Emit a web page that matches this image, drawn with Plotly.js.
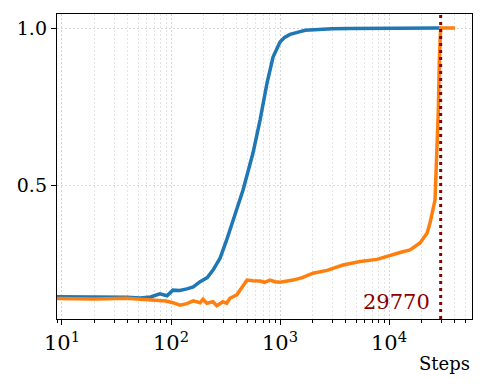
<!DOCTYPE html>
<html>
<head>
<meta charset="utf-8">
<script src="https://cdn.plot.ly/plotly-3.0.1.min.js"></script>
<style>html,body{margin:0;padding:0;background:#fff;}#chart{width:487px;height:390px;}</style>
</head>
<body>
<div id="chart"></div>
<script>
const blueSteps = [9, 20, 40, 52, 65, 79, 92, 104, 120, 140, 160, 185, 215, 243, 282, 324, 370, 458, 565, 656, 760, 863, 1000, 1100, 1236, 1350, 1500, 1700, 1884, 2300, 3000, 4385, 10000, 29770];
const blueVals  = [0.144, 0.144, 0.142, 0.140, 0.143, 0.153, 0.147, 0.165, 0.164, 0.169, 0.175, 0.192, 0.205, 0.229, 0.267, 0.325, 0.389, 0.484, 0.602, 0.707, 0.825, 0.908, 0.956, 0.970, 0.980, 0.985, 0.988, 0.993, 0.994, 0.997, 0.998, 0.999, 1.0, 1.0];
const orangeSteps = [9, 20, 39, 52, 70, 90, 104, 121, 140, 160, 185, 197, 213, 243, 263, 299, 324, 347, 402, 430, 498, 565, 656, 720, 809, 900, 1000, 1315, 1600, 2009, 2700, 3785, 4500, 5420, 7760, 9000, 10890, 12620, 15590, 19240, 22320, 23770, 26420, 27400, 28340, 28930, 29770, 40360];
const orangeVals  = [0.138, 0.137, 0.139, 0.136, 0.134, 0.130, 0.125, 0.117, 0.122, 0.131, 0.125, 0.136, 0.123, 0.128, 0.115, 0.128, 0.123, 0.139, 0.150, 0.166, 0.197, 0.195, 0.194, 0.190, 0.197, 0.192, 0.190, 0.197, 0.205, 0.219, 0.228, 0.245, 0.250, 0.256, 0.263, 0.270, 0.277, 0.285, 0.293, 0.315, 0.346, 0.379, 0.452, 0.580, 0.739, 0.898, 1.0, 1.0];
const markStep = 29770;
const markLabel = "29770";
const yTicks = [0.5, 1.0];
const xTickVals = [10, 100, 1000, 10000];
const xTickText = ["10<sup>1</sup>", "10<sup>2</sup>", "10<sup>3</sup>", "10<sup>4</sup>"];
const xLabel = "Steps";

const yRange = [0.073, 1.045];
const font = "'DejaVu Serif', serif";

const traces = [
  {x: blueSteps, y: blueVals, mode: "lines", line: {color: "#1f77b4", width: 3.5}, hoverinfo: "skip"},
  {x: orangeSteps, y: orangeVals, mode: "lines", line: {color: "#ff7f0e", width: 3.5}, hoverinfo: "skip"},
  {x: [markStep, markStep], y: yRange, mode: "lines", line: {color: "#8b0000", width: 3, dash: "3px,4px"}, hoverinfo: "skip"}
];

const layout = {
  width: 487, height: 390,
  margin: {l: 57, r: 15, t: 14, b: 71},
  showlegend: false,
  paper_bgcolor: "#fff", plot_bgcolor: "#fff",
  font: {family: font, size: 19, color: "#000"},
  xaxis: {
    type: "log", range: [Math.log10(9.0), Math.log10(57700)],
    tickvals: xTickVals, ticktext: xTickText,
    showline: true, mirror: true, linecolor: "#000", linewidth: 1.2,
    ticks: "outside", ticklen: 5, tickwidth: 1, tickcolor: "#000",
    showgrid: true, gridcolor: "#cfcfcf", griddash: "2px,2px", gridwidth: 0.8,
    zeroline: false,
    tickfont: {family: font, size: 21},
    minor: {dtick: "D1", ticks: "outside", ticklen: 3, tickcolor: "#000", showgrid: true, gridcolor: "#dcdcdc", griddash: "2px,2px", gridwidth: 0.8}
  },
  yaxis: {
    range: yRange, tickvals: yTicks, tickformat: ".1f",
    showline: true, mirror: true, linecolor: "#000", linewidth: 1.2,
    ticks: "outside", ticklen: 5, tickwidth: 1, tickcolor: "#000",
    showgrid: true, gridcolor: "#cfcfcf", griddash: "2px,2px", gridwidth: 0.8,
    zeroline: false,
    tickfont: {family: font, size: 19}
  },
  annotations: [
    {text: markLabel, x: Math.log10(markStep), y: 0.127, xref: "x", yref: "y", xanchor: "right", yanchor: "middle", xshift: -9, showarrow: false, font: {family: font, size: 21, color: "#8b0000"}},
    {text: xLabel, x: 1, y: -0.145, xref: "paper", yref: "paper", xanchor: "right", yanchor: "middle", showarrow: false, font: {family: font, size: 18, color: "#000"}}
  ]
};

Plotly.newPlot("chart", traces, layout, {staticPlot: true, displayModeBar: false});
</script>
</body>
</html>
